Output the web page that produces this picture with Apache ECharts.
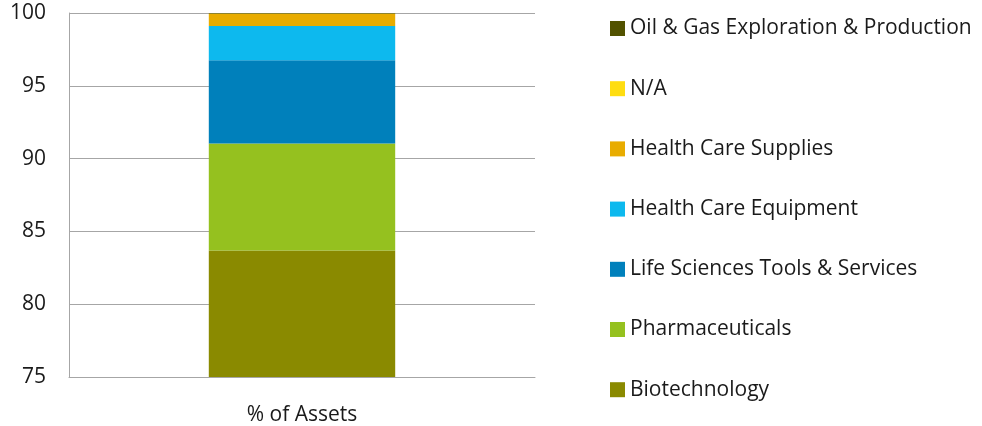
<!DOCTYPE html>
<html><head><meta charset="utf-8">
<script src="https://cdn.jsdelivr.net/npm/echarts@6/dist/echarts.min.js"></script>
<style>html,body{margin:0;padding:0;background:#fff}#c{width:982px;height:426px}</style>
</head><body><div id="c"></div>
<script>
const categories = ['% of Assets'];
const seriesNames = ['Biotechnology','Pharmaceuticals','Life Sciences Tools & Services','Health Care Equipment','Health Care Supplies','N/A','Oil & Gas Exploration & Production'];
const seriesValues = [83.68, 7.36, 5.72, 2.34, 0.85, 0.02, 0.03];
const seriesColors = ['#8A8A00','#95C11F','#0080BB','#0DB9EE','#E8AC00','#FFDD11','#525200'];
const yTicks = [75, 80, 85, 90, 95, 100];

const chart = echarts.init(document.getElementById('c'), null, {renderer:'canvas'});
const font = "'Open Sans', sans-serif";
chart.setOption({
  animation: false,
  grid: {left: 69, right: 447, top: 13, bottom: 49},
  legend: {
    orient: 'vertical', left: 610, top: 18, padding: 0,
    itemWidth: 15, itemHeight: 15, itemGap: 39.2,
    icon: 'rect',
    data: seriesNames.slice().reverse(),
    textStyle: {fontFamily: font, fontSize: 21, color: '#1a1a1a', padding: [0,0,0,0]}
  },
  xAxis: {
    type: 'category', data: categories,
    axisLine: {lineStyle: {color: '#a6a6a6', width: 1}},
    axisTick: {show: false},
    axisLabel: {fontFamily: font, fontSize: 21, color: '#1a1a1a', margin: 28}
  },
  yAxis: {
    type: 'value', min: yTicks[0], max: yTicks[yTicks.length-1], interval: 5,
    axisLine: {show: true, lineStyle: {color: '#a6a6a6'}},
    axisTick: {show: false},
    splitLine: {lineStyle: {color: '#a6a6a6'}},
    axisLabel: {fontFamily: font, fontSize: 21, color: '#1a1a1a', margin: 23}
  },
  series: seriesNames.map((n, i) => ({
    name: n, type: 'bar', stack: 'total', barWidth: '40%',
    itemStyle: {color: seriesColors[i]},
    data: [seriesValues[i]]
  }))
});
</script></body></html>
